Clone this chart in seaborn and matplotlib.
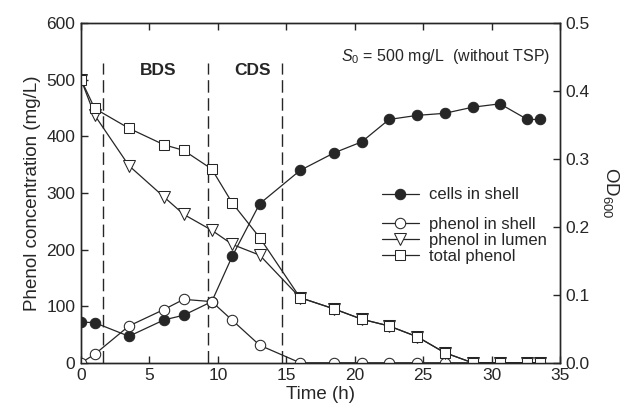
import numpy as np
import matplotlib
matplotlib.use("Agg")
import matplotlib.pyplot as plt
import seaborn as sns

sns.set_style("ticks")
plt.rcParams['font.family'] = ['Liberation Sans', 'DejaVu Sans']
plt.rcParams['mathtext.fontset'] = 'custom'
plt.rcParams['mathtext.rm'] = 'Liberation Sans'
plt.rcParams['mathtext.it'] = 'Liberation Sans:italic'

# sampling times (h)
t = [0, 1.0, 3.5, 6.05, 7.5, 9.55, 11.05, 13.05, 16.0, 18.5, 20.5, 22.5, 24.55, 26.55, 28.6, 30.6, 32.6, 33.5]

total_phenol = [500, 449, 414, 385, 375, 342, 282, 221, 115, 95, 77, 65, 46, 18, 0, 0, 0, 0]
phenol_lumen = [500, 437, 348, 293, 262, 234, 209, 190, 115, 95, 77, 65, 46, 18, 0, 0, 0, 0]
phenol_shell = [0, 15, 65, 94, 112, 108, 75, 31, 0, 0, 0, 0, 0, 0, 0, 0, 0, 0]
cells_od = [0.060, 0.059, 0.039, 0.063, 0.070, 0.090, 0.157, 0.234, 0.283, 0.309,
            0.325, 0.358, 0.364, 0.367, 0.376, 0.381, 0.358, 0.358]

phase_lines = [1.63, 9.24, 14.68]
phase_names = ['BDS', 'CDS']
phase_pos = [5.65, 12.5]

ink = '#262626'
lw = 0.9
ms = 7.5

fig, ax = plt.subplots(figsize=(6.33, 4.17), dpi=100)
fig.subplots_adjust(left=0.128, right=0.885, bottom=0.13, top=0.945)
ax2 = ax.twinx()
ax2.set_zorder(ax.get_zorder() - 1)
ax.patch.set_visible(False)

sns.lineplot(x=t, y=cells_od, ax=ax2, color=ink, lw=lw, marker='o', ms=ms,
             mfc=ink, mec=ink, label='cells in shell')

sns.lineplot(x=t, y=phenol_shell, ax=ax, color=ink, lw=lw, marker='o', ms=ms,
             mfc='white', mec=ink, label='phenol in shell')
sns.lineplot(x=t, y=phenol_lumen, ax=ax, color=ink, lw=lw, marker='v', ms=ms + 0.5,
             mfc='white', mec=ink, label='phenol in lumen')
sns.lineplot(x=t, y=total_phenol, ax=ax, color=ink, lw=lw, marker='s', ms=ms - 0.5,
             mfc='white', mec=ink, label='total phenol')

for x in phase_lines:
    ax.vlines(x, 0, 530, colors=ink, linestyles=(0, (9, 4)), lw=1.0, zorder=1)
for name, x in zip(phase_names, phase_pos):
    ax.text(x, 516, name, ha='center', va='center', fontsize=12.5, fontweight='bold', color=ink)

ax.text(34.3, 541, r"$S_0$ = 500 mg/L  (without TSP)", ha='right', va='center', fontsize=11.5, color=ink)

ax.set_xlim(0, 35)
ax.set_ylim(0, 600)
ax2.set_ylim(0, 0.5)
ax.set_xticks(np.arange(0, 36, 5))
ax.set_yticks(np.arange(0, 601, 100))
ax2.set_yticks(np.arange(0, 0.51, 0.1))
ax2.yaxis.set_major_formatter(matplotlib.ticker.FormatStrFormatter('%.1f'))

ax.tick_params(direction='in', top=True, length=5, width=1, labelsize=12.5, colors=ink, pad=4)
ax2.tick_params(direction='in', length=5, width=1, labelsize=12.5, colors=ink, pad=4)
for a in (ax, ax2):
    for s in a.spines.values():
        s.set_visible(True)
        s.set_linewidth(1.0)
        s.set_color(ink)

ax.set_xlabel('Time (h)', fontsize=13.5, color=ink, labelpad=2)
ax.set_ylabel('Phenol concentration (mg/L)', fontsize=13.5, color=ink, labelpad=4)
ax2.set_ylabel(r'OD$_{600}$', fontsize=13.5, color=ink, rotation=270, labelpad=22)

leg_kw = dict(frameon=False, fontsize=12, handlelength=2.2, handletextpad=0.6,
              borderpad=0, borderaxespad=0, labelspacing=0.05, loc='center left')
ax2.legend(bbox_to_anchor=(0.628, 0.494), **leg_kw)
ax.legend(bbox_to_anchor=(0.628, 0.36), **leg_kw)

fig.savefig('out.png', dpi=100)
